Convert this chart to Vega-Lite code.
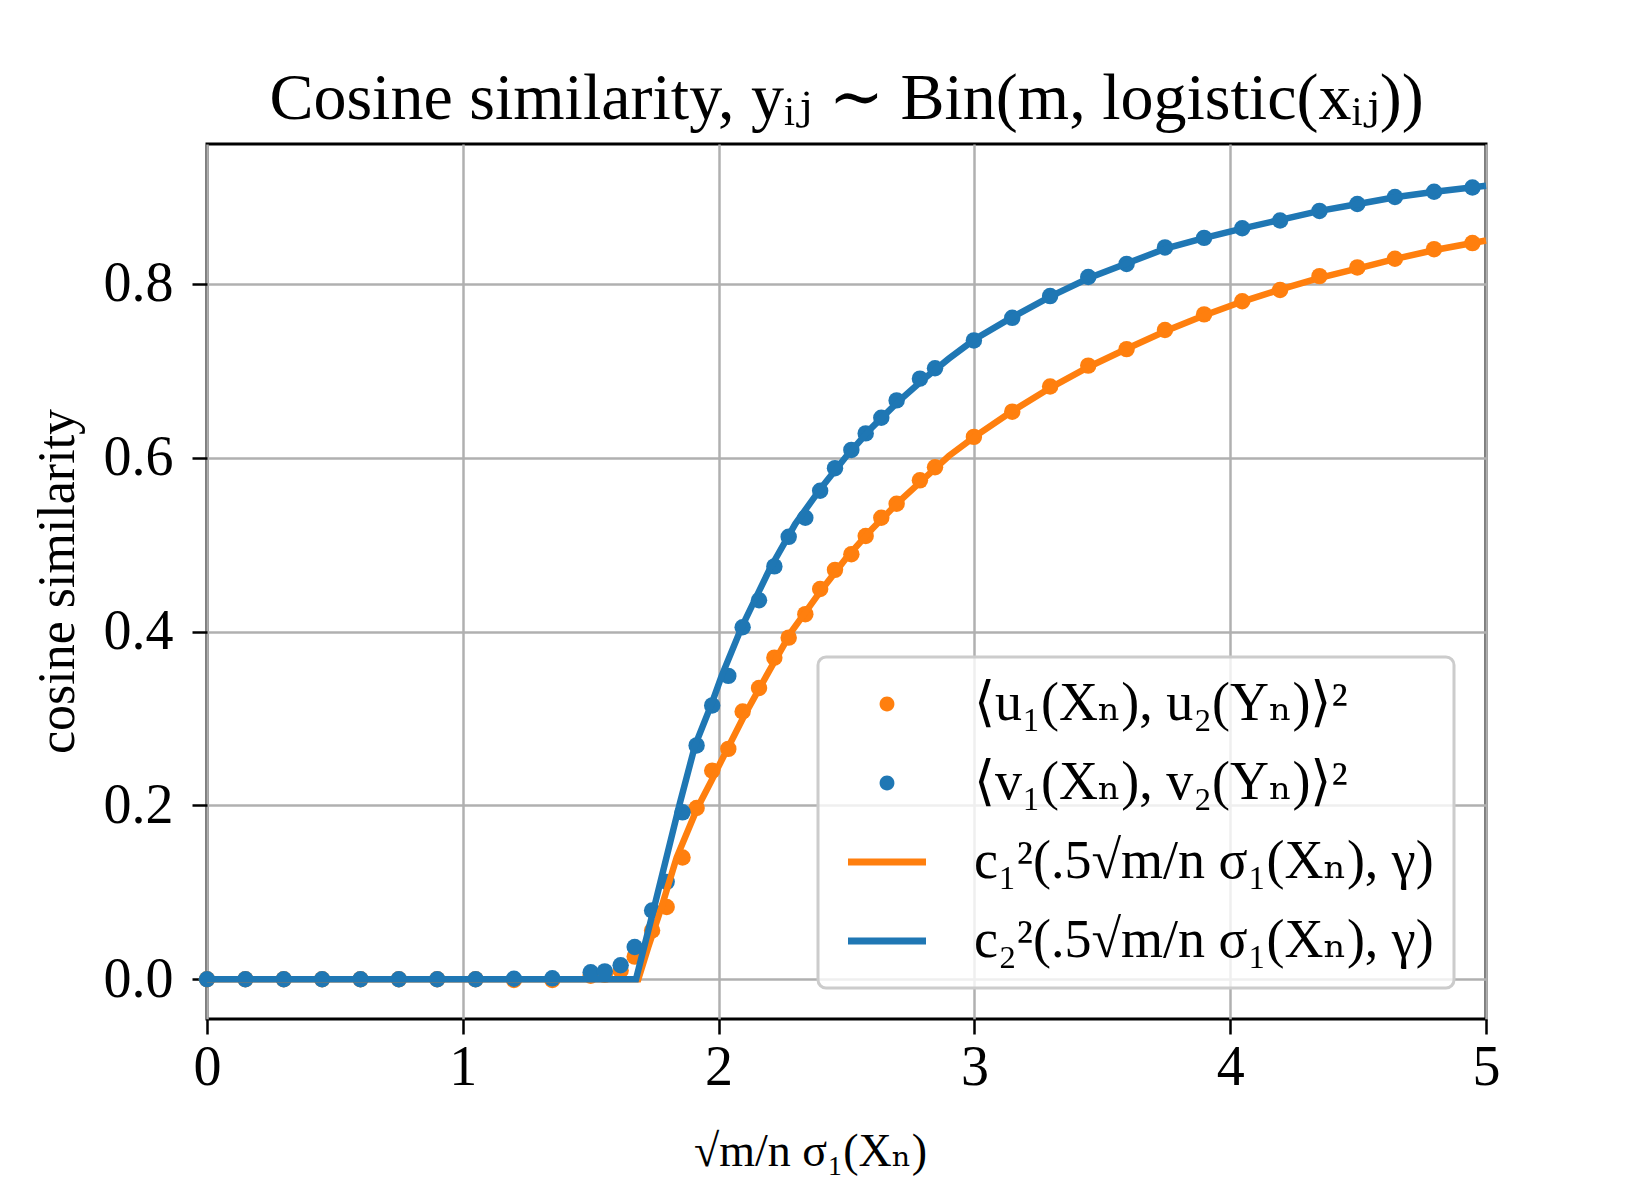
{
  "$schema": "https://vega.github.io/schema/vega-lite/v6.json",
  "width": 1279,
  "height": 875,
  "autosize": {"type": "none"},
  "padding": {"left": 207, "top": 144, "right": 164, "bottom": 181},
  "background": "white",
  "title": {
    "text": "Cosine similarity, yᵢⱼ ∼ Bin(m, logistic(xᵢⱼ))",
    "font": "Liberation Serif, DejaVu Serif, serif",
    "fontSize": 66,
    "fontWeight": "normal",
    "color": "black",
    "baseline": "alphabetic",
    "offset": 24,
    "dy": 65
  },
  "config": {
    "view": {"stroke": "black", "strokeWidth": 3},
    "axis": {
      "domain": false,
      "grid": true,
      "gridColor": "#b0b0b0",
      "gridWidth": 2.5,
      "ticks": true,
      "tickColor": "black",
      "tickWidth": 2.5,
      "tickSize": 15,
      "labelFlush": false,
      "labelFont": "Liberation Serif, DejaVu Serif, serif",
      "labelFontSize": 56,
      "labelColor": "black",
      "titleFont": "Liberation Serif, DejaVu Serif, serif",
      "titleFontWeight": "normal",
      "titleColor": "black"
    }
  },
  "datasets": {
    "points": [
      {"series": "⟨u₁(Xₙ), u₂(Yₙ)⟩²", "x": 0, "y": 0},
      {"series": "⟨u₁(Xₙ), u₂(Yₙ)⟩²", "x": 0.15, "y": 0},
      {"series": "⟨u₁(Xₙ), u₂(Yₙ)⟩²", "x": 0.3, "y": 0},
      {"series": "⟨u₁(Xₙ), u₂(Yₙ)⟩²", "x": 0.45, "y": 0},
      {"series": "⟨u₁(Xₙ), u₂(Yₙ)⟩²", "x": 0.6, "y": 0},
      {"series": "⟨u₁(Xₙ), u₂(Yₙ)⟩²", "x": 0.75, "y": 0},
      {"series": "⟨u₁(Xₙ), u₂(Yₙ)⟩²", "x": 0.9, "y": 0},
      {"series": "⟨u₁(Xₙ), u₂(Yₙ)⟩²", "x": 1.05, "y": 0},
      {"series": "⟨u₁(Xₙ), u₂(Yₙ)⟩²", "x": 1.2, "y": -0.001},
      {"series": "⟨u₁(Xₙ), u₂(Yₙ)⟩²", "x": 1.35, "y": -0.001},
      {"series": "⟨u₁(Xₙ), u₂(Yₙ)⟩²", "x": 1.5, "y": 0.004},
      {"series": "⟨u₁(Xₙ), u₂(Yₙ)⟩²", "x": 1.555, "y": 0.005},
      {"series": "⟨u₁(Xₙ), u₂(Yₙ)⟩²", "x": 1.617, "y": 0.01},
      {"series": "⟨u₁(Xₙ), u₂(Yₙ)⟩²", "x": 1.672, "y": 0.026},
      {"series": "⟨u₁(Xₙ), u₂(Yₙ)⟩²", "x": 1.74, "y": 0.056},
      {"series": "⟨u₁(Xₙ), u₂(Yₙ)⟩²", "x": 1.797, "y": 0.083},
      {"series": "⟨u₁(Xₙ), u₂(Yₙ)⟩²", "x": 1.859, "y": 0.14},
      {"series": "⟨u₁(Xₙ), u₂(Yₙ)⟩²", "x": 1.914, "y": 0.197},
      {"series": "⟨u₁(Xₙ), u₂(Yₙ)⟩²", "x": 1.975, "y": 0.24},
      {"series": "⟨u₁(Xₙ), u₂(Yₙ)⟩²", "x": 2.038, "y": 0.265},
      {"series": "⟨u₁(Xₙ), u₂(Yₙ)⟩²", "x": 2.094, "y": 0.308},
      {"series": "⟨u₁(Xₙ), u₂(Yₙ)⟩²", "x": 2.158, "y": 0.335},
      {"series": "⟨u₁(Xₙ), u₂(Yₙ)⟩²", "x": 2.218, "y": 0.37},
      {"series": "⟨u₁(Xₙ), u₂(Yₙ)⟩²", "x": 2.274, "y": 0.393},
      {"series": "⟨u₁(Xₙ), u₂(Yₙ)⟩²", "x": 2.339, "y": 0.42},
      {"series": "⟨u₁(Xₙ), u₂(Yₙ)⟩²", "x": 2.397, "y": 0.449},
      {"series": "⟨u₁(Xₙ), u₂(Yₙ)⟩²", "x": 2.455, "y": 0.471},
      {"series": "⟨u₁(Xₙ), u₂(Yₙ)⟩²", "x": 2.519, "y": 0.489},
      {"series": "⟨u₁(Xₙ), u₂(Yₙ)⟩²", "x": 2.575, "y": 0.51},
      {"series": "⟨u₁(Xₙ), u₂(Yₙ)⟩²", "x": 2.636, "y": 0.531},
      {"series": "⟨u₁(Xₙ), u₂(Yₙ)⟩²", "x": 2.696, "y": 0.547},
      {"series": "⟨u₁(Xₙ), u₂(Yₙ)⟩²", "x": 2.787, "y": 0.574},
      {"series": "⟨u₁(Xₙ), u₂(Yₙ)⟩²", "x": 2.846, "y": 0.589},
      {"series": "⟨u₁(Xₙ), u₂(Yₙ)⟩²", "x": 2.998, "y": 0.624},
      {"series": "⟨u₁(Xₙ), u₂(Yₙ)⟩²", "x": 3.148, "y": 0.653},
      {"series": "⟨u₁(Xₙ), u₂(Yₙ)⟩²", "x": 3.296, "y": 0.682},
      {"series": "⟨u₁(Xₙ), u₂(Yₙ)⟩²", "x": 3.445, "y": 0.706},
      {"series": "⟨u₁(Xₙ), u₂(Yₙ)⟩²", "x": 3.595, "y": 0.725},
      {"series": "⟨u₁(Xₙ), u₂(Yₙ)⟩²", "x": 3.745, "y": 0.747},
      {"series": "⟨u₁(Xₙ), u₂(Yₙ)⟩²", "x": 3.898, "y": 0.765},
      {"series": "⟨u₁(Xₙ), u₂(Yₙ)⟩²", "x": 4.047, "y": 0.78},
      {"series": "⟨u₁(Xₙ), u₂(Yₙ)⟩²", "x": 4.195, "y": 0.793},
      {"series": "⟨u₁(Xₙ), u₂(Yₙ)⟩²", "x": 4.349, "y": 0.809},
      {"series": "⟨u₁(Xₙ), u₂(Yₙ)⟩²", "x": 4.497, "y": 0.819},
      {"series": "⟨u₁(Xₙ), u₂(Yₙ)⟩²", "x": 4.644, "y": 0.829},
      {"series": "⟨u₁(Xₙ), u₂(Yₙ)⟩²", "x": 4.797, "y": 0.84},
      {"series": "⟨u₁(Xₙ), u₂(Yₙ)⟩²", "x": 4.947, "y": 0.847},
      {"series": "⟨v₁(Xₙ), v₂(Yₙ)⟩²", "x": 0, "y": 0},
      {"series": "⟨v₁(Xₙ), v₂(Yₙ)⟩²", "x": 0.15, "y": 0},
      {"series": "⟨v₁(Xₙ), v₂(Yₙ)⟩²", "x": 0.3, "y": 0},
      {"series": "⟨v₁(Xₙ), v₂(Yₙ)⟩²", "x": 0.45, "y": 0},
      {"series": "⟨v₁(Xₙ), v₂(Yₙ)⟩²", "x": 0.6, "y": 0},
      {"series": "⟨v₁(Xₙ), v₂(Yₙ)⟩²", "x": 0.75, "y": 0},
      {"series": "⟨v₁(Xₙ), v₂(Yₙ)⟩²", "x": 0.9, "y": 0},
      {"series": "⟨v₁(Xₙ), v₂(Yₙ)⟩²", "x": 1.05, "y": 0},
      {"series": "⟨v₁(Xₙ), v₂(Yₙ)⟩²", "x": 1.2, "y": 0.0005},
      {"series": "⟨v₁(Xₙ), v₂(Yₙ)⟩²", "x": 1.35, "y": 0.001},
      {"series": "⟨v₁(Xₙ), v₂(Yₙ)⟩²", "x": 1.5, "y": 0.008},
      {"series": "⟨v₁(Xₙ), v₂(Yₙ)⟩²", "x": 1.555, "y": 0.009},
      {"series": "⟨v₁(Xₙ), v₂(Yₙ)⟩²", "x": 1.617, "y": 0.016},
      {"series": "⟨v₁(Xₙ), v₂(Yₙ)⟩²", "x": 1.672, "y": 0.037},
      {"series": "⟨v₁(Xₙ), v₂(Yₙ)⟩²", "x": 1.74, "y": 0.079},
      {"series": "⟨v₁(Xₙ), v₂(Yₙ)⟩²", "x": 1.797, "y": 0.112},
      {"series": "⟨v₁(Xₙ), v₂(Yₙ)⟩²", "x": 1.859, "y": 0.192},
      {"series": "⟨v₁(Xₙ), v₂(Yₙ)⟩²", "x": 1.914, "y": 0.269},
      {"series": "⟨v₁(Xₙ), v₂(Yₙ)⟩²", "x": 1.975, "y": 0.315},
      {"series": "⟨v₁(Xₙ), v₂(Yₙ)⟩²", "x": 2.038, "y": 0.349},
      {"series": "⟨v₁(Xₙ), v₂(Yₙ)⟩²", "x": 2.094, "y": 0.405},
      {"series": "⟨v₁(Xₙ), v₂(Yₙ)⟩²", "x": 2.158, "y": 0.436},
      {"series": "⟨v₁(Xₙ), v₂(Yₙ)⟩²", "x": 2.218, "y": 0.475},
      {"series": "⟨v₁(Xₙ), v₂(Yₙ)⟩²", "x": 2.274, "y": 0.509},
      {"series": "⟨v₁(Xₙ), v₂(Yₙ)⟩²", "x": 2.339, "y": 0.531},
      {"series": "⟨v₁(Xₙ), v₂(Yₙ)⟩²", "x": 2.397, "y": 0.562},
      {"series": "⟨v₁(Xₙ), v₂(Yₙ)⟩²", "x": 2.455, "y": 0.588},
      {"series": "⟨v₁(Xₙ), v₂(Yₙ)⟩²", "x": 2.519, "y": 0.609},
      {"series": "⟨v₁(Xₙ), v₂(Yₙ)⟩²", "x": 2.575, "y": 0.628},
      {"series": "⟨v₁(Xₙ), v₂(Yₙ)⟩²", "x": 2.636, "y": 0.646},
      {"series": "⟨v₁(Xₙ), v₂(Yₙ)⟩²", "x": 2.696, "y": 0.666},
      {"series": "⟨v₁(Xₙ), v₂(Yₙ)⟩²", "x": 2.787, "y": 0.691},
      {"series": "⟨v₁(Xₙ), v₂(Yₙ)⟩²", "x": 2.846, "y": 0.703},
      {"series": "⟨v₁(Xₙ), v₂(Yₙ)⟩²", "x": 2.998, "y": 0.735},
      {"series": "⟨v₁(Xₙ), v₂(Yₙ)⟩²", "x": 3.148, "y": 0.761},
      {"series": "⟨v₁(Xₙ), v₂(Yₙ)⟩²", "x": 3.296, "y": 0.786},
      {"series": "⟨v₁(Xₙ), v₂(Yₙ)⟩²", "x": 3.445, "y": 0.808},
      {"series": "⟨v₁(Xₙ), v₂(Yₙ)⟩²", "x": 3.595, "y": 0.823},
      {"series": "⟨v₁(Xₙ), v₂(Yₙ)⟩²", "x": 3.745, "y": 0.842},
      {"series": "⟨v₁(Xₙ), v₂(Yₙ)⟩²", "x": 3.898, "y": 0.853},
      {"series": "⟨v₁(Xₙ), v₂(Yₙ)⟩²", "x": 4.047, "y": 0.864},
      {"series": "⟨v₁(Xₙ), v₂(Yₙ)⟩²", "x": 4.195, "y": 0.873},
      {"series": "⟨v₁(Xₙ), v₂(Yₙ)⟩²", "x": 4.349, "y": 0.884},
      {"series": "⟨v₁(Xₙ), v₂(Yₙ)⟩²", "x": 4.497, "y": 0.892},
      {"series": "⟨v₁(Xₙ), v₂(Yₙ)⟩²", "x": 4.644, "y": 0.9},
      {"series": "⟨v₁(Xₙ), v₂(Yₙ)⟩²", "x": 4.797, "y": 0.906},
      {"series": "⟨v₁(Xₙ), v₂(Yₙ)⟩²", "x": 4.947, "y": 0.911}
    ],
    "curve1": [
      {"series": "c₁²(.5√m/n σ₁(Xₙ), γ)", "x": 0, "y": 0},
      {"series": "c₁²(.5√m/n σ₁(Xₙ), γ)", "x": 1.686, "y": 0},
      {"series": "c₁²(.5√m/n σ₁(Xₙ), γ)", "x": 1.725, "y": 0.037},
      {"series": "c₁²(.5√m/n σ₁(Xₙ), γ)", "x": 1.777, "y": 0.083},
      {"series": "c₁²(.5√m/n σ₁(Xₙ), γ)", "x": 1.836, "y": 0.14},
      {"series": "c₁²(.5√m/n σ₁(Xₙ), γ)", "x": 1.917, "y": 0.197},
      {"series": "c₁²(.5√m/n σ₁(Xₙ), γ)", "x": 1.973, "y": 0.229},
      {"series": "c₁²(.5√m/n σ₁(Xₙ), γ)", "x": 2.0, "y": 0.245},
      {"series": "c₁²(.5√m/n σ₁(Xₙ), γ)", "x": 2.1, "y": 0.303},
      {"series": "c₁²(.5√m/n σ₁(Xₙ), γ)", "x": 2.2, "y": 0.356},
      {"series": "c₁²(.5√m/n σ₁(Xₙ), γ)", "x": 2.285, "y": 0.4},
      {"series": "c₁²(.5√m/n σ₁(Xₙ), γ)", "x": 2.4, "y": 0.447},
      {"series": "c₁²(.5√m/n σ₁(Xₙ), γ)", "x": 2.5, "y": 0.485},
      {"series": "c₁²(.5√m/n σ₁(Xₙ), γ)", "x": 2.6, "y": 0.518},
      {"series": "c₁²(.5√m/n σ₁(Xₙ), γ)", "x": 2.7, "y": 0.548},
      {"series": "c₁²(.5√m/n σ₁(Xₙ), γ)", "x": 2.8, "y": 0.575},
      {"series": "c₁²(.5√m/n σ₁(Xₙ), γ)", "x": 2.9, "y": 0.602},
      {"series": "c₁²(.5√m/n σ₁(Xₙ), γ)", "x": 3.0, "y": 0.624},
      {"series": "c₁²(.5√m/n σ₁(Xₙ), γ)", "x": 3.15, "y": 0.654},
      {"series": "c₁²(.5√m/n σ₁(Xₙ), γ)", "x": 3.3, "y": 0.681},
      {"series": "c₁²(.5√m/n σ₁(Xₙ), γ)", "x": 3.45, "y": 0.705},
      {"series": "c₁²(.5√m/n σ₁(Xₙ), γ)", "x": 3.6, "y": 0.726},
      {"series": "c₁²(.5√m/n σ₁(Xₙ), γ)", "x": 3.75, "y": 0.746},
      {"series": "c₁²(.5√m/n σ₁(Xₙ), γ)", "x": 3.9, "y": 0.764},
      {"series": "c₁²(.5√m/n σ₁(Xₙ), γ)", "x": 4.05, "y": 0.78},
      {"series": "c₁²(.5√m/n σ₁(Xₙ), γ)", "x": 4.2, "y": 0.794},
      {"series": "c₁²(.5√m/n σ₁(Xₙ), γ)", "x": 4.35, "y": 0.807},
      {"series": "c₁²(.5√m/n σ₁(Xₙ), γ)", "x": 4.5, "y": 0.818},
      {"series": "c₁²(.5√m/n σ₁(Xₙ), γ)", "x": 4.65, "y": 0.829},
      {"series": "c₁²(.5√m/n σ₁(Xₙ), γ)", "x": 4.8, "y": 0.839},
      {"series": "c₁²(.5√m/n σ₁(Xₙ), γ)", "x": 5.0, "y": 0.85}
    ],
    "curve2": [
      {"series": "c₂²(.5√m/n σ₁(Xₙ), γ)", "x": 0, "y": 0},
      {"series": "c₂²(.5√m/n σ₁(Xₙ), γ)", "x": 1.677, "y": 0},
      {"series": "c₂²(.5√m/n σ₁(Xₙ), γ)", "x": 1.745, "y": 0.079},
      {"series": "c₂²(.5√m/n σ₁(Xₙ), γ)", "x": 1.849, "y": 0.203},
      {"series": "c₂²(.5√m/n σ₁(Xₙ), γ)", "x": 1.908, "y": 0.269},
      {"series": "c₂²(.5√m/n σ₁(Xₙ), γ)", "x": 1.973, "y": 0.317},
      {"series": "c₂²(.5√m/n σ₁(Xₙ), γ)", "x": 2.012, "y": 0.349},
      {"series": "c₂²(.5√m/n σ₁(Xₙ), γ)", "x": 2.09, "y": 0.405},
      {"series": "c₂²(.5√m/n σ₁(Xₙ), γ)", "x": 2.2, "y": 0.472},
      {"series": "c₂²(.5√m/n σ₁(Xₙ), γ)", "x": 2.3, "y": 0.524},
      {"series": "c₂²(.5√m/n σ₁(Xₙ), γ)", "x": 2.4, "y": 0.565},
      {"series": "c₂²(.5√m/n σ₁(Xₙ), γ)", "x": 2.5, "y": 0.602},
      {"series": "c₂²(.5√m/n σ₁(Xₙ), γ)", "x": 2.6, "y": 0.635},
      {"series": "c₂²(.5√m/n σ₁(Xₙ), γ)", "x": 2.7, "y": 0.664},
      {"series": "c₂²(.5√m/n σ₁(Xₙ), γ)", "x": 2.8, "y": 0.69},
      {"series": "c₂²(.5√m/n σ₁(Xₙ), γ)", "x": 2.9, "y": 0.714},
      {"series": "c₂²(.5√m/n σ₁(Xₙ), γ)", "x": 3.0, "y": 0.736},
      {"series": "c₂²(.5√m/n σ₁(Xₙ), γ)", "x": 3.15, "y": 0.762},
      {"series": "c₂²(.5√m/n σ₁(Xₙ), γ)", "x": 3.3, "y": 0.786},
      {"series": "c₂²(.5√m/n σ₁(Xₙ), γ)", "x": 3.45, "y": 0.807},
      {"series": "c₂²(.5√m/n σ₁(Xₙ), γ)", "x": 3.6, "y": 0.824},
      {"series": "c₂²(.5√m/n σ₁(Xₙ), γ)", "x": 3.75, "y": 0.841},
      {"series": "c₂²(.5√m/n σ₁(Xₙ), γ)", "x": 3.9, "y": 0.853},
      {"series": "c₂²(.5√m/n σ₁(Xₙ), γ)", "x": 4.05, "y": 0.864},
      {"series": "c₂²(.5√m/n σ₁(Xₙ), γ)", "x": 4.2, "y": 0.874},
      {"series": "c₂²(.5√m/n σ₁(Xₙ), γ)", "x": 4.35, "y": 0.884},
      {"series": "c₂²(.5√m/n σ₁(Xₙ), γ)", "x": 4.5, "y": 0.892},
      {"series": "c₂²(.5√m/n σ₁(Xₙ), γ)", "x": 4.65, "y": 0.9},
      {"series": "c₂²(.5√m/n σ₁(Xₙ), γ)", "x": 4.8, "y": 0.906},
      {"series": "c₂²(.5√m/n σ₁(Xₙ), γ)", "x": 5.0, "y": 0.913}
    ]
  },
  "encoding": {
    "x": {
      "field": "x",
      "type": "quantitative",
      "scale": {"domain": [0, 5], "nice": false, "zero": false},
      "axis": {
        "values": [0, 1, 2, 3, 4, 5],
        "format": "d",
        "labelPadding": 6,
        "title": "√m/n σ₁(Xₙ)",
        "titleFontSize": 46,
        "titleBaseline": "alphabetic",
        "titleX": 603,
        "titleY": 146
      }
    },
    "y": {
      "field": "y",
      "type": "quantitative",
      "scale": {"domain": [-0.0458, 0.961], "nice": false, "zero": false},
      "axis": {
        "values": [0, 0.2, 0.4, 0.6, 0.8],
        "format": ".1f",
        "labelPadding": 19,
        "title": "cosine similarity",
        "titleFontSize": 52,
        "titleBaseline": "alphabetic",
        "titleAngle": -90,
        "titleX": -134,
        "titleY": 437
      }
    },
    "color": {
      "field": "series",
      "type": "nominal",
      "scale": {
        "domain": ["⟨u₁(Xₙ), u₂(Yₙ)⟩²", "⟨v₁(Xₙ), v₂(Yₙ)⟩²", "c₁²(.5√m/n σ₁(Xₙ), γ)", "c₂²(.5√m/n σ₁(Xₙ), γ)"],
        "range": ["#ff7f0e", "#1f77b4", "#ff7f0e", "#1f77b4"]
      },
      "legend": {
        "title": null,
        "orient": "none",
        "legendX": 611,
        "legendY": 513,
        "labelFont": "Liberation Serif, DejaVu Serif, serif",
        "labelFontSize": 54,
        "labelColor": "black",
        "labelLimit": 1000,
        "labelOffset": 60,
        "symbolSize": 6084,
        "symbolOffset": 22,
        "padding": 20,
        "rowPadding": 25,
        "strokeColor": "#cccccc",
        "fillColor": "rgba(255,255,255,0.8)",
        "cornerRadius": 8,
        "encode": {
          "legend": {"update": {"strokeWidth": {"value": 3}}},
          "symbols": {
            "update": {
              "shape": {"signal": "datum.index < 2 ? 'M-0.19,0A0.19,0.19,0,1,1,0.19,0A0.19,0.19,0,1,1,-0.19,0Z' : 'M-1,0H1'"},
              "fill": {"signal": "datum.index < 2 ? scale('color', datum.value) : 'transparent'"},
              "stroke": {"signal": "scale('color', datum.value)"},
              "strokeWidth": {"signal": "datum.index < 2 ? 0 : 7"},
              "opacity": {"value": 1}
            }
          }
        }
      }
    }
  },
  "layer": [
    {
      "data": {"name": "points"},
      "mark": {"type": "point", "filled": true, "size": 270, "opacity": 1, "shape": "circle"}
    },
    {
      "data": {"name": "curve1"},
      "mark": {"type": "line", "strokeWidth": 6.5}
    },
    {
      "data": {"name": "curve2"},
      "mark": {"type": "line", "strokeWidth": 6.5}
    }
  ]
}
